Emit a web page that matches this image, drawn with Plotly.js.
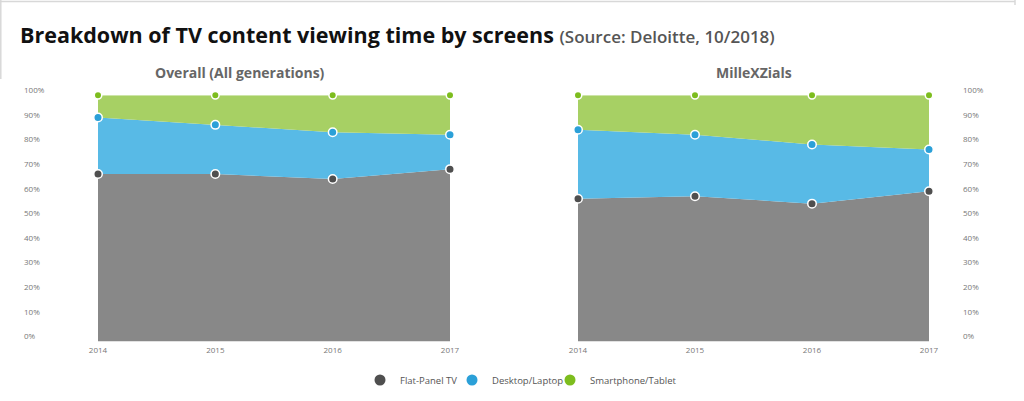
<!DOCTYPE html>
<html>
<head>
<meta charset="utf-8">
<script src="https://cdn.plot.ly/plotly-3.0.1.min.js"></script>
<style>html,body{margin:0;padding:0;background:#fff;}#chart{width:1024px;height:401px;}</style>
</head>
<body>
<div id="chart"></div>
<script>
// ---- Data ----
const years = [2014, 2015, 2016, 2017];
const seriesNames = ["Flat-Panel TV", "Desktop/Laptop", "Smartphone/Tablet"];
const overallTV = [68, 68, 66, 70];
const overallDesktop = [23, 20, 19, 14];
const overallSmartphone = [9, 12, 15, 16];
const millTV = [58, 59, 56, 61];
const millDesktop = [28, 25, 24, 17];
const millSmartphone = [14, 16, 20, 22];
const yTickVals = [0, 10, 20, 30, 40, 50, 60, 70, 80, 90, 100];
const yTickText = yTickVals.map(v => v + "%");
const panelTitles = ["Overall (All generations)", "MilleXZials"];

// ---- Styles ----
const fillColors = ["#888888", "#58bae6", "#a7d064"];
const markerColors = ["#4f4f4f", "#2ba0d8", "#7dbd1e"];
const markerSizes = [8.5, 8.5, 7.5];
const legendIds = ["legend", "legend2", "legend3"];
const legendLeft = [360, 452, 550];

function areaTraces(vals, xa, ya) {
  return vals.map((v, i) => ({
    x: years, y: v, xaxis: xa, yaxis: ya,
    type: "scatter", mode: "lines+markers", stackgroup: "s" + xa,
    line: {width: 0, color: fillColors[i]}, fillcolor: fillColors[i],
    marker: {size: markerSizes[i], color: markerColors[i], line: {color: "#ffffff", width: 1.5}},
    cliponaxis: false, showlegend: false, hoverinfo: "skip"
  }));
}

const traces = [
  ...areaTraces([overallTV, overallDesktop, overallSmartphone], "x", "y"),
  ...areaTraces([millTV, millDesktop, millSmartphone], "x2", "y2"),
  ...seriesNames.map((n, i) => ({
    x: [null], y: [null], type: "scatter", mode: "markers", name: n, legend: legendIds[i],
    marker: {size: 11, color: markerColors[i]}, showlegend: true, hoverinfo: "skip"
  }))
];

const yDom = [(401 - 341.5) / 401, (401 - 95.3) / 401];
const xAxisCommon = {
  range: [2014, 2017], tickvals: years, ticktext: years.map(String),
  showgrid: false, zeroline: false, showline: false, ticks: "", ticklabelstandoff: 2,
  tickfont: {family: "Open Sans", size: 8, color: "#777"}, fixedrange: true
};
const yAxisCommon = {
  range: [0, 100], domain: yDom, tickvals: yTickVals, ticktext: yTickText,
  showgrid: false, zeroline: false, showline: false, ticks: "",
  anchor: "free", side: "right", ticklabelshift: -5,
  tickfont: {family: "Open Sans", size: 8, color: "#777"}, fixedrange: true
};

const layout = {
  width: 1024, height: 401,
  margin: {l: 0, r: 0, t: 0, b: 0},
  paper_bgcolor: "#ffffff", plot_bgcolor: "rgba(0,0,0,0)",
  font: {family: "Open Sans"},
  xaxis: Object.assign({}, xAxisCommon, {domain: [98 / 1024, 450 / 1024], anchor: "y"}),
  xaxis2: Object.assign({}, xAxisCommon, {domain: [578 / 1024, 929 / 1024], anchor: "y2"}),
  yaxis: Object.assign({}, yAxisCommon, {position: 23 / 1024}),
  yaxis2: Object.assign({}, yAxisCommon, {position: 962 / 1024}),
  showlegend: true,
  annotations: [
    {xref: "paper", yref: "paper", x: 18 / 1024, y: (401 - 34) / 401, xanchor: "left", yanchor: "middle",
     showarrow: false,
     text: "<b>Breakdown of TV content viewing time by screens</b> <span style=\"font-size:17px;color:#555;font-weight:600\">(Source: Deloitte, 10/2018)</span>",
     font: {family: "Open Sans", size: 21.5, color: "#111"}},
    {xref: "paper", yref: "paper", x: 240 / 1024, y: (401 - 72) / 401, xanchor: "center", yanchor: "middle",
     showarrow: false, text: "<b>" + panelTitles[0] + "</b>",
     font: {family: "Open Sans", size: 14, color: "#666"}},
    {xref: "paper", yref: "paper", x: 754 / 1024, y: (401 - 72) / 401, xanchor: "center", yanchor: "middle",
     showarrow: false, text: "<b>" + panelTitles[1] + "</b>",
     font: {family: "Open Sans", size: 14, color: "#666"}}
  ],
  shapes: [
    {type: "line", xref: "paper", yref: "paper", x0: 0, x1: 1015 / 1024, y0: (401 - 1.5) / 401, y1: (401 - 1.5) / 401, line: {color: "#d8d8d8", width: 1.5}},
    {type: "line", xref: "paper", yref: "paper", x0: 0.8 / 1024, x1: 0.8 / 1024, y0: 1, y1: (401 - 79) / 401, line: {color: "#d8d8d8", width: 1.5}},
    {type: "line", xref: "paper", yref: "paper", x0: 1015 / 1024, x1: 1015 / 1024, y0: 1, y1: (401 - 5) / 401, line: {color: "#d8d8d8", width: 1.5}}
  ]
};
legendIds.forEach((id, i) => {
  layout[id] = {
    orientation: "h", x: legendLeft[i] / 1024, xanchor: "left", y: (401 - 380) / 401, yanchor: "middle",
    font: {family: "Open Sans", size: 9.5, color: "#555"}, itemwidth: 30, bgcolor: "rgba(0,0,0,0)"
  };
});

Plotly.newPlot("chart", traces, layout, {displayModeBar: false, staticPlot: true});
</script>
</body>
</html>
